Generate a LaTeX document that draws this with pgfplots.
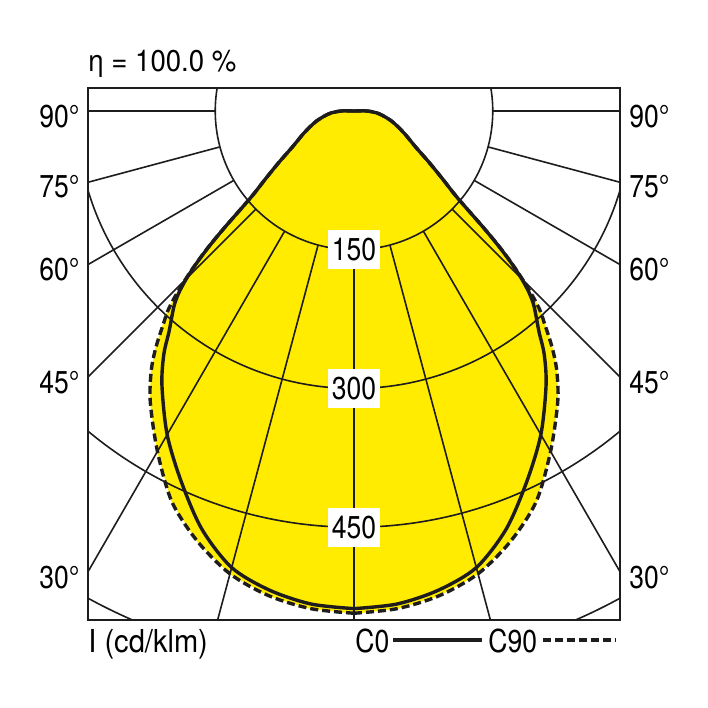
\documentclass[border=0pt]{standalone}
\usepackage{fontspec}
\setmainfont{TeX Gyre Heros}[FakeStretch=0.84]
\newfontfamily\widefont{TeX Gyre Heros}[FakeStretch=0.92]
\usepackage{pgfplots}
\usepackage{pgfplotstable}
\pgfplotsset{compat=1.18}
\definecolor{lumyellow}{RGB}{255,236,0}
\definecolor{ink}{RGB}{30,28,28}
\tikzset{gridline/.style={line width=0.8pt, ink}}

% luminous intensity in cd/klm, g = angle from nadir
\pgfplotstableread{
g r
0 538
5 535
10 526
15 511
20 481
25 442
30 404
35 362
38 334
40 311
42 293
43 284
44 272
45 256
46 236
47 213
48 188
49 164
50 146
51 134
52 125
54 109
56 96
60 76
65 62
70 51
75 42
80 33
85 25
90 14
90 0
}\czero

\pgfplotstableread{
g r
0 543
5 540
10 532
15 518
20 495
25 466
30 425
35 384
38 356
40 333
42 307
43 295
44 278
45 258
46 237
47 214
48 188
49 164
50 146
51 134
52 125
54 109
56 96
60 76
65 62
70 51
75 42
80 33
85 25
90 14
90 0
}\cninety

\begin{document}
\begin{tikzpicture}[font=\fontsize{15.8pt}{18pt}\selectfont]
\begin{axis}[
  x=0.4625pt, y=0.4625pt,
  xmin=-287.6, xmax=287.6, ymin=-550.3, ymax=24.9,
  ticks=none,
  axis line style={line width=1pt, ink},
  every axis plot/.append style={data cs=polar},
]
% yellow area
\addplot[fill=lumyellow, draw=lumyellow, line width=0.4pt] table[x expr=\thisrow{g}-90, y=r]{\cninety} -- cycle;
\addplot[fill=lumyellow, draw=lumyellow, line width=0.4pt] table[x expr=-90-\thisrow{g}, y=r]{\cninety} -- cycle;
\addplot[fill=lumyellow, draw=lumyellow, line width=0.4pt] table[x expr=\thisrow{g}-90, y=r]{\czero} -- cycle;
\addplot[fill=lumyellow, draw=lumyellow, line width=0.4pt] table[x expr=-90-\thisrow{g}, y=r]{\czero} -- cycle;

% polar grid
\draw[gridline] (axis cs:0,0) circle[radius=150];
\draw[gridline] (axis cs:0,0) circle[radius=300];
\draw[gridline] (axis cs:0,0) circle[radius=450];
\draw[gridline] (axis cs:0,0) circle[radius=600];
\pgfplotsinvokeforeach{-180,-165,-150,-135,-120,-105,-90,-75,-60,-45,-30,-15,0}{
  \addplot[gridline] coordinates {(#1,150) (#1,900)};
}
\node[fill=white, inner xsep=2pt, inner ysep=4pt] at (axis cs:0,-150) {150};
\node[fill=white, inner xsep=2pt, inner ysep=4pt] at (axis cs:0,-300) {300};
\node[fill=white, inner xsep=2pt, inner ysep=4pt] at (axis cs:0,-450) {450};

% curves
\addplot[ink, line width=1.7pt, smooth] table[x expr=\thisrow{g}-90, y=r]{\czero};
\addplot[ink, line width=1.7pt, smooth] table[x expr=-90-\thisrow{g}, y=r]{\czero};
\addplot[ink, line width=1.7pt, smooth, dash pattern=on 4pt off 2pt] table[x expr=\thisrow{g}-90, y=r]{\cninety};
\addplot[ink, line width=1.7pt, smooth, dash pattern=on 4pt off 2pt] table[x expr=-90-\thisrow{g}, y=r]{\cninety};

\coordinate (O) at (axis cs:0,0);
\end{axis}

\begin{scope}[shift={(O)}, x=0.5pt, y=-0.5pt, shift={(-354,-111)}]
\path (0,0) rectangle (708,708);
\node[anchor=base west, inner sep=0, font=\widefont\fontsize{15pt}{18pt}\selectfont] at (88,71.7) {η = 100.0 \%};
\foreach \lab/\yy in {90/117,75/187,60/270,45/382.5,30/578}{
  \node[anchor=east, inner sep=0] at (80,\yy) {\lab°};
  \node[anchor=west, inner sep=0] at (629,\yy) {\lab°};
}
\node[anchor=base west, inner sep=0, font=\widefont\fontsize{15.8pt}{18pt}\selectfont] at (88,652.7) {I (cd/klm)};
\node[anchor=base west, inner sep=0] at (355,652.7) {C0};
\draw[ink, line width=2pt] (393,640) -- (482,640);
\node[anchor=base west, inner sep=0] at (488,652.7) {C90};
\draw[ink, line width=2pt, dash pattern=on 4pt off 2pt] (543,640) -- (616,640);
\end{scope}
\end{tikzpicture}
\end{document}
